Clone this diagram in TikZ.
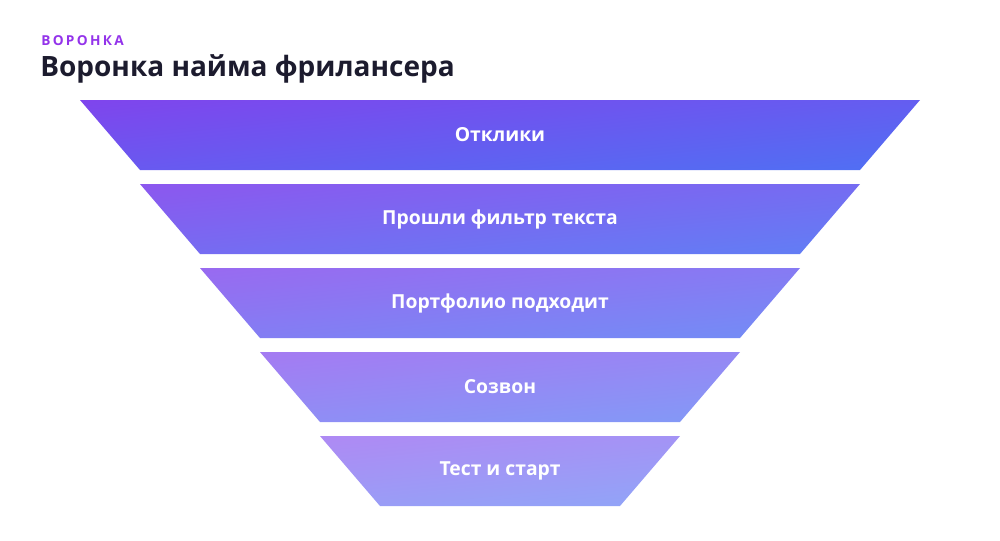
\documentclass[tikz,border=0pt]{standalone}
\usepackage{fontspec}
\setmainfont{Open Sans}
\usepackage{tikz}

\definecolor{fPurple}{HTML}{9333EA}
\definecolor{fBlue}{HTML}{3B82F6}
\definecolor{fInk}{HTML}{1C1B2E}
\colorlet{fTop}{fPurple}
\colorlet{fBot}{fBlue}
\pgfdeclareverticalshading[fTop,fBot]{funnel}{100bp}{color(0bp)=(fBot); color(100bp)=(fTop)}

\tikzset{
  layer/.style={/utils/exec={\colorlet{fTop}{fPurple!#1!white}\colorlet{fBot}{fBlue!#1!white}},
    shading=funnel, shading angle=6},
  stage/.style={text=white, font=\fontsize{14.5}{17}\selectfont\bfseries, inner sep=0pt}
}

\begin{document}
\begin{tikzpicture}[x=0.75pt,y=-0.75pt]
\useasboundingbox (0,0) rectangle (1000,540);

% Heading
\node [anchor=base west, inner sep=0pt, text=fPurple, font=\fontsize{10.25}{12}\selectfont\bfseries\addfontfeatures{LetterSpace=17}] (tag) at (41,45.5) {ВОРОНКА};
\node [anchor=base west, inner sep=0pt, text=fInk, font=\fontsize{21}{25}\selectfont\bfseries] (title) at (40,76.5) {Воронка найма фрилансера};

%Shape: Trapezium 1
\path [layer=100] (80,100) -- (920,100) -- (860,170) -- (140,170) -- cycle ;
%Shape: Trapezium 2
\path [layer=90] (140,184) -- (860,184) -- (800,254) -- (200,254) -- cycle ;
%Shape: Trapezium 3
\path [layer=80] (200,268) -- (800,268) -- (740,338) -- (260,338) -- cycle ;
%Shape: Trapezium 4
\path [layer=71] (260,352) -- (740,352) -- (680,422) -- (320,422) -- cycle ;
%Shape: Trapezium 5
\path [layer=63] (320,436) -- (680,436) -- (620,506) -- (380,506) -- cycle ;

% Text Node
\node [stage] (s1) at (500,135) {Отклики};
% Text Node
\node [stage] (s2) at (500,219) {Прошли фильтр текста};
% Text Node
\node [stage] (s3) at (500,303) {Портфолио подходит};
% Text Node
\node [stage] (s4) at (500,387) {Созвон};
% Text Node
\node [stage] (s5) at (500,471) {Тест и старт};

\end{tikzpicture}
\end{document}
